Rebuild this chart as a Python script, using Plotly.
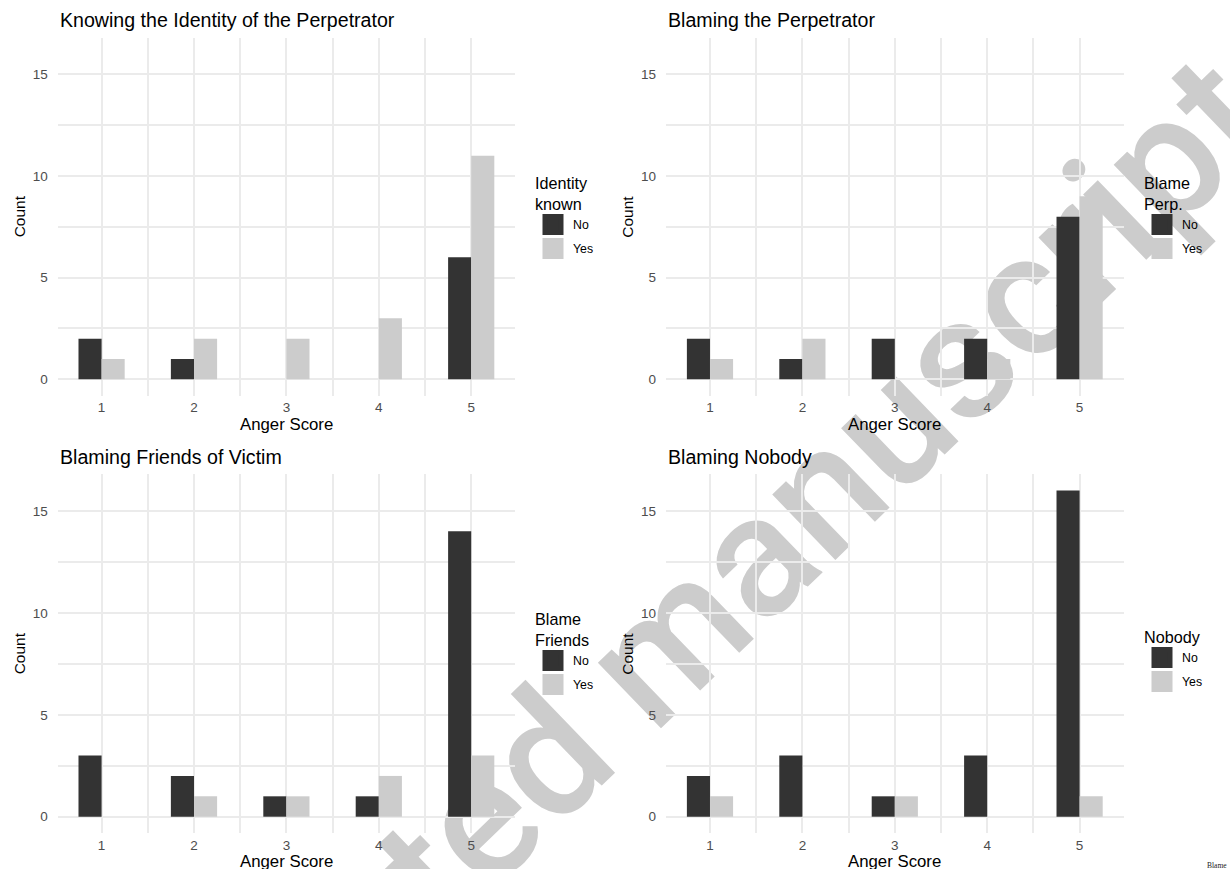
import plotly.graph_objects as go

# ---------------- data ----------------
scores = [1, 2, 3, 4, 5]
groups = ["No", "Yes"]

identity_no = [2, 1, 0, 0, 6]
identity_yes = [1, 2, 2, 3, 11]
perp_no = [2, 1, 2, 2, 8]
perp_yes = [1, 2, 0, 1, 9]
friends_no = [3, 2, 1, 1, 14]
friends_yes = [0, 1, 1, 2, 3]
nobody_no = [2, 3, 1, 3, 16]
nobody_yes = [1, 0, 1, 0, 1]

panel_titles = ["Knowing the Identity of the Perpetrator", "Blaming the Perpetrator",
                "Blaming Friends of Victim", "Blaming Nobody"]
legend_titles = ["Identity<br>known", "Blame<br>Perp.", "Blame<br>Friends", "Nobody"]
x_ticks = [1, 2, 3, 4, 5]
y_ticks = [0, 5, 10, 15]
x_title = "Anger Score"
y_title = "Count"
watermark = "Accepted manuscript"
corner_note = "Blame"

series = [(identity_no, identity_yes), (perp_no, perp_yes),
          (friends_no, friends_yes), (nobody_no, nobody_yes)]

# ---------------- layout helpers ----------------
W, H = 1230, 869
FONT = "Liberation Sans, Arial, sans-serif"
DARK, LIGHT = "#333333", "#CCCCCC"
GRID = "#EBEBEB"


def px(x):
    return x / W


def py(y):
    return 1 - y / H


# panel boxes in pixels: (left, right, top, bottom)
boxes = [(57.7, 515.1, 37.7, 395.6), (666.1, 1123.5, 37.7, 395.6),
         (57.7, 515.1, 474.3, 833.0), (666.1, 1123.5, 474.3, 833.0)]
legend_pos = [(533, 168), (1142, 168), (533, 604), (1142, 622)]

fig = go.Figure()
annotations = []

for i, ((no_vals, yes_vals), (l, r, t, b)) in enumerate(zip(series, boxes)):
    n = i + 1
    xa = "x" if n == 1 else f"x{n}"
    ya = "y" if n == 1 else f"y{n}"
    lg = "legend" if n == 1 else f"legend{n}"
    for name, vals, col in [(groups[0], no_vals, DARK), (groups[1], yes_vals, LIGHT)]:
        fig.add_trace(go.Bar(x=scores, y=vals, name=name, xaxis=xa, yaxis=ya,
                             marker=dict(color=col, line=dict(width=0)),
                             legend=lg, legendgroup=f"{name}{n}", showlegend=False))
        # legend key (square fill key like ggplot); carries no data points
        fig.add_trace(go.Scatter(x=[None], y=[None], name=name, xaxis=xa, yaxis=ya,
                                 mode="markers", hoverinfo="skip",
                                 marker=dict(symbol="square", size=16, color=col,
                                             line=dict(color=col, width=5)),
                                 legend=lg, legendgroup=f"{name}{n}", showlegend=True))
    axis_common = dict(showline=False, zeroline=False, ticks="",
                       showgrid=True, gridcolor=GRID, gridwidth=2,
                       tickfont=dict(family=FONT, size=13.5, color="#4D4D4D"))
    fig.update_layout(**{
        ("xaxis" if n == 1 else f"xaxis{n}"): dict(
            domain=[px(l), px(r)], anchor=ya, range=[0.525, 5.475],
            tickmode="array", tickvals=x_ticks, ticklabelstandoff=2,
            minor=dict(tick0=1.5, dtick=1, showgrid=True, gridcolor=GRID, gridwidth=1.5),
            **axis_common),
        ("yaxis" if n == 1 else f"yaxis{n}"): dict(
            domain=[py(b), py(t)], anchor=xa, range=[-0.8, 16.8],
            tickmode="array", tickvals=y_ticks, ticklabelstandoff=9,
            minor=dict(tick0=2.5, dtick=5, showgrid=True, gridcolor=GRID, gridwidth=1.5),
            **axis_common),
    })
    lx, ly = legend_pos[i]
    fig.update_layout(**{lg: dict(
        x=px(lx), y=py(ly), xanchor="left", yanchor="top",
        bgcolor="rgba(0,0,0,0)", borderwidth=0, itemsizing="trace",
        traceorder="grouped", tracegroupgap=5,
        title=dict(text=legend_titles[i], font=dict(family=FONT, size=16.2, color="#000000")),
        font=dict(family=FONT, size=12.3, color="#000000"),
        itemclick=False, itemdoubleclick=False)})
    # panel title
    annotations.append(dict(text=panel_titles[i], xref="paper", yref="paper",
                            x=px(l), y=py(t - 17.5), xanchor="left", yanchor="middle",
                            showarrow=False, font=dict(family=FONT, size=19.6, color="#000000")))
    # axis titles
    annotations.append(dict(text=x_title, xref="paper", yref="paper",
                            x=px((l + r) / 2), y=py(b + 28.5), xanchor="center", yanchor="middle",
                            showarrow=False, font=dict(family=FONT, size=16.8, color="#000000")))
    annotations.append(dict(text=y_title, xref="paper", yref="paper",
                            x=px(l - 38), y=py((t + b) / 2), xanchor="center", yanchor="middle",
                            textangle=-90, showarrow=False,
                            font=dict(family=FONT, size=15.5, color="#000000")))

annotations.append(dict(text=corner_note, xref="paper", yref="paper", x=px(1229), y=py(865),
                        xanchor="right", yanchor="middle", showarrow=False,
                        font=dict(family="Liberation Serif, Times New Roman, serif", size=7.5,
                                  color="#222222")))

# watermark drawn beneath grid and bars
cx, cy, half = 640, 650, 300
fig.add_shape(type="line", xref="paper", yref="paper", layer="below",
              x0=px(cx - half), y0=py(cy + half * 0.966), x1=px(cx + half), y1=py(cy - half * 0.966),
              line=dict(color="rgba(0,0,0,0)", width=0),
              label=dict(text=watermark, textposition="middle", yanchor="middle",
                         textangle=-44,
                         font=dict(family="Roboto, Liberation Sans, sans-serif", size=172,
                                   color="#CCCCCC", weight=500)))

fig.update_layout(width=W, height=H, margin=dict(l=0, r=0, t=0, b=0),
                  paper_bgcolor="white", plot_bgcolor="rgba(0,0,0,0)",
                  barmode="group", bargap=0.5, bargroupgap=0,
                  annotations=annotations, showlegend=True,
                  font=dict(family=FONT))

fig.write_html("out.html", config={"displayModeBar": False},
               post_script="document.body.style.margin='0px';")
